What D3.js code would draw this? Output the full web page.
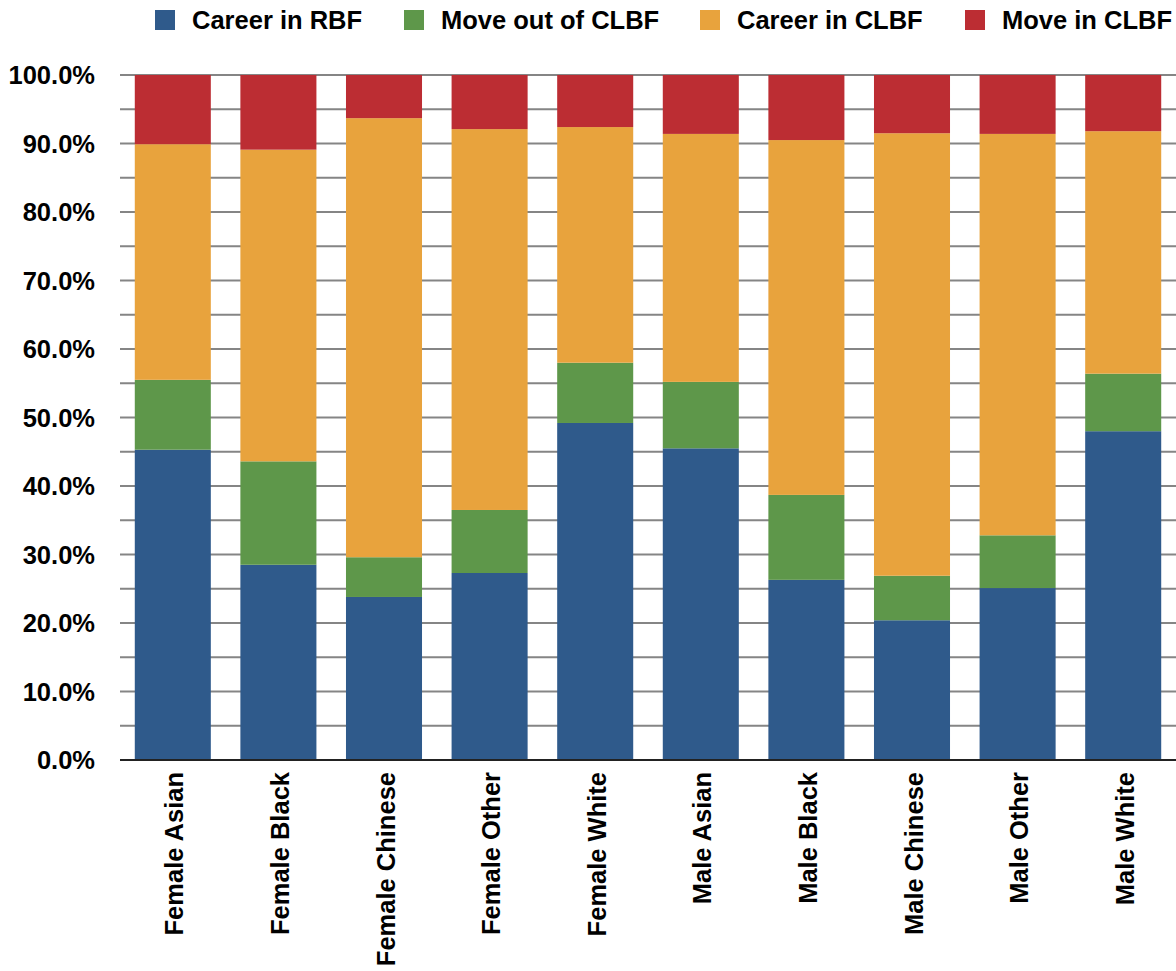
<!DOCTYPE html>
<html>
<head>
<meta charset="utf-8">
<script src="https://cdn.jsdelivr.net/npm/d3@7"></script>
<style>
  body { margin: 0; background: #fff; }
  text { font-family: "Liberation Sans", Arial, Helvetica, sans-serif; font-weight: bold; fill: #000; }
</style>
</head>
<body>
<svg id="chart" width="1176" height="971"></svg>
<script>
// categories and series (percent of each group)
const groups = ["Female Asian", "Female Black", "Female Chinese", "Female Other", "Female White",
                "Male Asian", "Male Black", "Male Chinese", "Male Other", "Male White"];
const seriesNames = ["Career in RBF", "Move out of CLBF", "Career in CLBF", "Move in CLBF"];
const careerRBF   = [45.3, 28.5, 23.8, 27.3, 49.2, 45.5, 26.3, 20.4, 25.1, 48.0];
const moveOutCLBF = [10.2, 15.1,  5.8,  9.2,  8.8,  9.7, 12.4,  6.5,  7.7,  8.4];
const careerCLBF  = [34.4, 45.5, 64.1, 55.6, 34.4, 36.2, 51.8, 64.6, 58.6, 35.4];
const moveInCLBF  = [10.1, 10.9,  6.3,  7.9,  7.6,  8.6,  9.5,  8.5,  8.6,  8.2];
const colors = ["#2f5a8b", "#5e974a", "#e8a33d", "#bc2d33"];
const yTicks = [0, 10, 20, 30, 40, 50, 60, 70, 80, 90, 100];

const svg = d3.select("#chart");
const margin = {left: 120, right: 0, top: 75, bottom: 211};
const width = 1176, height = 971;
const fontSize = 25.5;

const rows = groups.map((g, i) => ({
    group: g,
    "Career in RBF": careerRBF[i],
    "Move out of CLBF": moveOutCLBF[i],
    "Career in CLBF": careerCLBF[i],
    "Move in CLBF": moveInCLBF[i]
}));
const stacked = d3.stack().keys(seriesNames)(rows);

const x = d3.scaleBand()
    .domain(groups)
    .range([margin.left, width - margin.right])
    .paddingInner(0.28)
    .paddingOuter(0.14);
const y = d3.scaleLinear()
    .domain([0, 100])
    .range([height - margin.bottom, margin.top]);

// gridlines every 5%
svg.append("g")
    .selectAll("line")
    .data(d3.range(5, 101, 5))
    .join("line")
    .attr("x1", margin.left).attr("x2", width - margin.right)
    .attr("y1", d => y(d)).attr("y2", d => y(d))
    .attr("stroke", "#858585")
    .attr("stroke-width", 2);

// bars
svg.append("g")
    .selectAll("g")
    .data(stacked)
    .join("g")
    .attr("fill", (d, i) => colors[i])
    .selectAll("rect")
    .data(d => d)
    .join("rect")
    .attr("x", d => x(d.data.group))
    .attr("width", x.bandwidth())
    .attr("y", d => y(Math.min(d[1], 100)))
    .attr("height", d => y(d[0]) - y(Math.min(d[1], 100)));

// baseline
svg.append("line")
    .attr("x1", margin.left).attr("x2", width - margin.right)
    .attr("y1", y(0)).attr("y2", y(0))
    .attr("stroke", "#222")
    .attr("stroke-width", 2);

// y tick labels
svg.append("g")
    .selectAll("text")
    .data(yTicks)
    .join("text")
    .attr("x", 95)
    .attr("y", d => y(d))
    .attr("dy", "0.36em")
    .attr("text-anchor", "end")
    .attr("font-size", fontSize)
    .text(d => d3.format(".1f")(d) + "%");

// x labels, rotated
svg.append("g")
    .selectAll("text")
    .data(groups)
    .join("text")
    .attr("transform", d => `translate(${x(d) + x.bandwidth() / 2 + 10.5},772) rotate(-90)`)
    .attr("text-anchor", "end")
    .attr("font-size", fontSize)
    .text(d => d);

// legend
const legendX = [155, 404, 700, 965];
const legend = svg.append("g")
    .selectAll("g")
    .data(seriesNames)
    .join("g")
    .attr("transform", (d, i) => `translate(${legendX[i]},10)`);
legend.append("rect")
    .attr("width", 20).attr("height", 20)
    .attr("fill", (d, i) => colors[i]);
legend.append("text")
    .attr("x", 37).attr("y", 10)
    .attr("dy", "0.36em")
    .attr("font-size", fontSize)
    .text(d => d);
</script>
</body>
</html>
